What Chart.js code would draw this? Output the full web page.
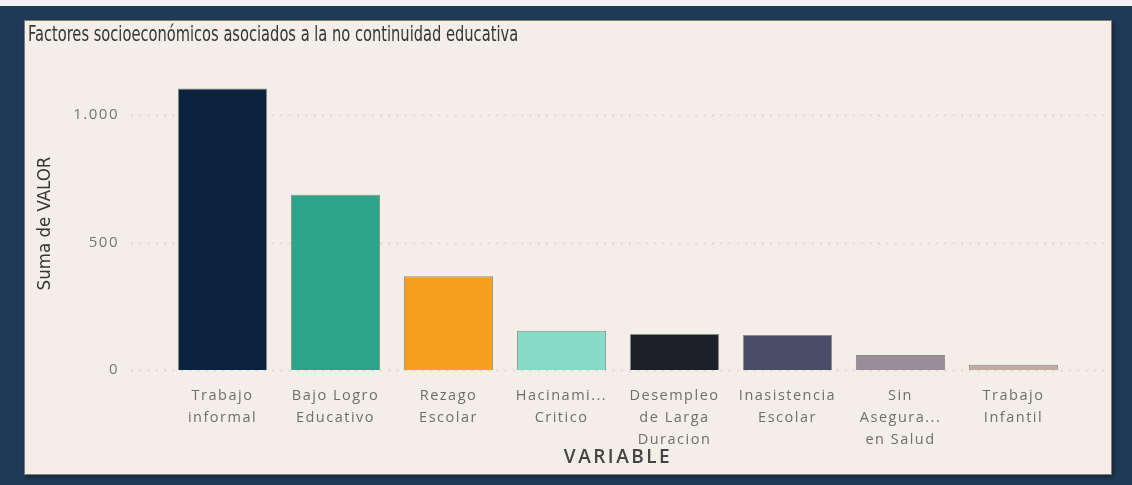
<!DOCTYPE html>
<html>
<head>
<meta charset="utf-8">
<script src="https://cdn.jsdelivr.net/npm/chart.js@4.4.0/dist/chart.umd.min.js"></script>
<style>
  html, body { margin: 0; padding: 0; }
  body {
    width: 1132px; height: 485px; overflow: hidden; position: relative;
    background: #1e3a57;
  }
  .topStrip { position: absolute; left: 0; top: 0; width: 1132px; height: 6px; background: #f1f1f1; }
  .panel {
    position: absolute; left: 24px; top: 20px; width: 1088px; height: 455px;
    background: #f3efe8; box-sizing: border-box;
    border: 1px solid #7f7c78;
    box-shadow: 2px 2px 4px rgba(0,0,0,0.35);
  }
  #chart { display: block; }
  .title {
    position: absolute; left: 28px; top: 22px; margin: 0;
    font: 21px/24px 'DejaVu Sans Condensed', 'DejaVu Sans', sans-serif;
    color: #363636; white-space: nowrap;
    transform: scaleX(0.776); transform-origin: 0 0;
  }
</style>
</head>
<body>
<div class="topStrip"></div>
<div class="panel"><canvas id="chart" width="1086" height="453"></canvas></div>
<h1 class="title">Factores socioeconómicos asociados a la no continuidad educativa</h1>
<script>
const categories = [
    ['Trabajo', 'informal'],
    ['Bajo Logro', 'Educativo'],
    ['Rezago', 'Escolar'],
    ['Hacinami...', 'Critico'],
    ['Desempleo', 'de Larga', 'Duracion'],
    ['Inasistencia', 'Escolar'],
    ['Sin', 'Asegura...', 'en Salud'],
    ['Trabajo', 'Infantil']
];
const values = [1105, 688, 368, 154, 141, 137, 59, 21];
const barColors = ['#0c2340', '#2ea58a', '#f7a01f', '#86dcc6', '#1e2029', '#4a4d68', '#9a8c98', '#c4aaa4'];
const yTicks = [0, 500, 1000];
const yTickLabels = ['0', '500', '1.000'];

const narrowFont = "'DejaVu Sans Condensed', 'DejaVu Sans', sans-serif";
const bodyFont = "'Open Sans', 'DejaVu Sans', sans-serif";

// Power BI spreads its axis text out a bit; canvas letterSpacing gets close
function spaced(scale, method, px) {
    if (scale['_sp_' + method]) return;
    const orig = scale[method];
    scale[method] = function (...args) {
        this.ctx.save();
        this.ctx.letterSpacing = px;
        orig.apply(this, args);
        this.ctx.restore();
    };
    scale['_sp_' + method] = true;
}

// dotted gridlines that run past the plot area like the original
const dottedGrid = {
    id: 'dottedGrid',
    beforeDatasetsDraw(chart) {
        const { ctx, scales: { y } } = chart;
        ctx.save();
        ctx.strokeStyle = '#d6d2cc';
        ctx.lineWidth = 1.5;
        ctx.setLineDash([2, 6.3]);
        yTicks.forEach(v => {
            const py = Math.round(y.getPixelForValue(v)) + 0.5;
            ctx.beginPath();
            ctx.moveTo(106, py);
            ctx.lineTo(1081, py);
            ctx.stroke();
        });
        ctx.restore();
    }
};

const ctx = document.getElementById('chart').getContext('2d');
new Chart(ctx, {
    type: 'bar',
    data: {
        labels: categories,
        datasets: [{
            label: 'Suma de VALOR',
            data: values,
            backgroundColor: barColors,
            borderColor: 'rgba(70, 70, 70, 0.6)',
            borderWidth: 1,
            barPercentage: 0.79,
            categoryPercentage: 1
        }]
    },
    options: {
        responsive: false,
        animation: false,
        layout: { padding: { left: 3, right: 41, top: 56, bottom: 5 } },
        plugins: {
            legend: { display: false },
            tooltip: { enabled: false }
        },
        scales: {
            x: {
                grid: { display: false, drawTicks: false },
                border: { display: false },
                ticks: {
                    color: '#6e6e6e',
                    font: { family: bodyFont, size: 14.5, lineHeight: 1.5 },
                    padding: 15,
                    maxRotation: 0,
                    autoSkip: false
                },
                title: {
                    display: true,
                    text: 'VARIABLE',
                    color: '#444',
                    font: { family: bodyFont, size: 19, weight: '600' },
                    padding: { top: 0, bottom: 0 }
                },
                afterFit(scale) {
                    scale.height = 99;
                    spaced(scale, 'drawLabels', '1.5px');
                    spaced(scale, 'drawTitle', '2.5px');
                }
            },
            y: {
                min: 0,
                max: 1150,
                grid: { display: false, drawTicks: false },
                border: { display: false },
                afterBuildTicks(scale) { scale.ticks = yTicks.map(v => ({ value: v })); },
                ticks: {
                    color: '#777',
                    font: { family: bodyFont, size: 15 },
                    padding: 47,
                    callback: (v) => yTickLabels[yTicks.indexOf(v)]
                },
                title: {
                    display: true,
                    text: 'Suma de VALOR',
                    color: '#363636',
                    font: { family: narrowFont, size: 18.5 },
                    padding: { top: 6, bottom: 0 }
                },
                afterFit(scale) {
                    scale.width = 138;
                    spaced(scale, 'drawLabels', '1.5px');
                }
            }
        }
    },
    plugins: [dottedGrid]
});
</script>
</body>
</html>
